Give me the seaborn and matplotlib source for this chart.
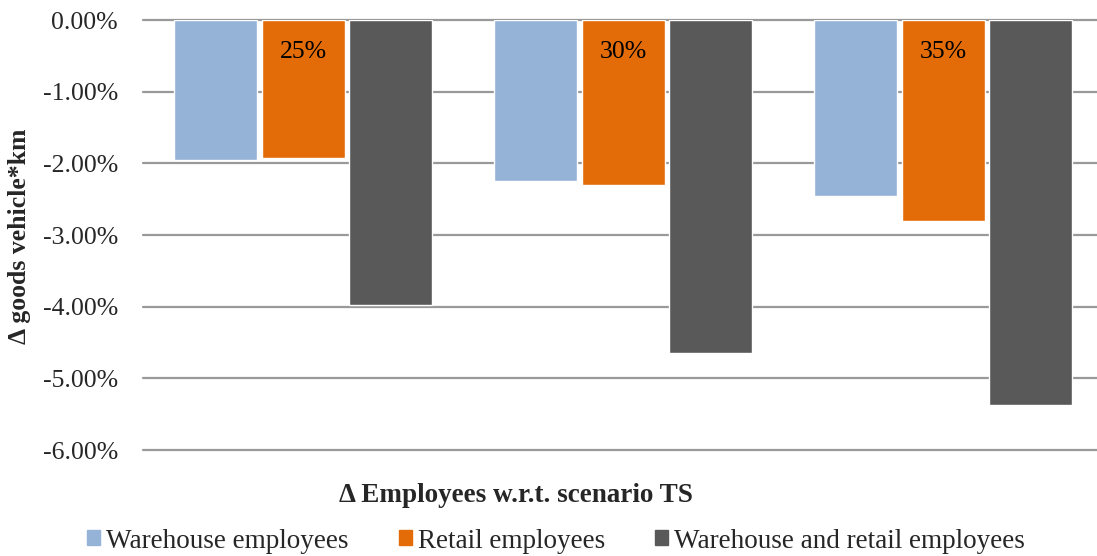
import pandas as pd
import seaborn as sns
import matplotlib.pyplot as plt
from matplotlib.ticker import FuncFormatter, MultipleLocator

# -------------------------
# Data (% change in goods vehicle*km)
# -------------------------
scenarios = ["25%", "30%", "35%"]
series = ["Warehouse employees", "Retail employees", "Warehouse and retail employees"]
warehouse = [-1.96, -2.25, -2.46]
retail = [-1.92, -2.30, -2.81]
both = [-3.98, -4.65, -5.37]
colors = ["#95B3D7", "#E36C09", "#595959"]

df = pd.DataFrame({
    "scenario": scenarios * 3,
    "series": [s for s in series for _ in scenarios],
    "value": warehouse + retail + both,
})

sns.set_style("white")
plt.rcParams["font.family"] = ["Liberation Serif", "DejaVu Serif"]

fig = plt.figure(figsize=(10.97, 5.56), dpi=100)
ax = fig.add_axes([0.1304, 0.1906, 0.876, 0.7734])

sns.barplot(data=df, x="scenario", y="value", hue="series", order=scenarios,
            hue_order=series, palette=colors, width=0.82, gap=0.05,
            edgecolor="white", linewidth=1, saturation=1, legend=False, ax=ax, zorder=3)

# -------------------------
# Axes styling
# -------------------------
ax.set_ylim(-6, 0)
ax.set_xlim(-0.5, 2.503)
ax.yaxis.set_major_locator(MultipleLocator(1))
ax.yaxis.set_major_formatter(FuncFormatter(lambda v, p: f"{v:.2f}%"))
ax.grid(axis="y", color="#999999", linewidth=1.6, zorder=0)
for gl in ax.get_ygridlines():
    gl.set_clip_on(False)
sns.despine(ax=ax, left=True, bottom=True, top=True, right=True)
ax.tick_params(axis="y", length=0, pad=18, labelsize=18.5)
ax.set_xticks([])
ax.set_xlabel("")
ax.set_ylabel("")

fig.text(20 / 1097, 1 - 236 / 556, "\u0394 goods vehicle*km", rotation=90, ha="center",
         va="center", fontsize=18.5, fontweight="bold")

# scenario labels inside the orange bars
for i, s in enumerate(scenarios):
    ax.text(i, -0.45, s, ha="center", va="center", fontsize=18.5, color="black", zorder=4)

fig.text(516 / 1097, 1 - 495 / 556, "\u0394 Employees w.r.t. scenario TS", ha="center",
         va="center", fontsize=19.5, fontweight="bold")

handles = [plt.Rectangle((0, 0), 1, 1, color=c) for c in colors]
fig.legend(handles, series, loc="center", bbox_to_anchor=(556 / 1097, 1 - 541 / 556), ncol=3,
           frameon=False, fontsize=19.5, handlelength=0.48, handleheight=0.48,
           handletextpad=0.22, columnspacing=1.85, borderaxespad=0, borderpad=0)

fig.savefig("out.png", dpi=100)
